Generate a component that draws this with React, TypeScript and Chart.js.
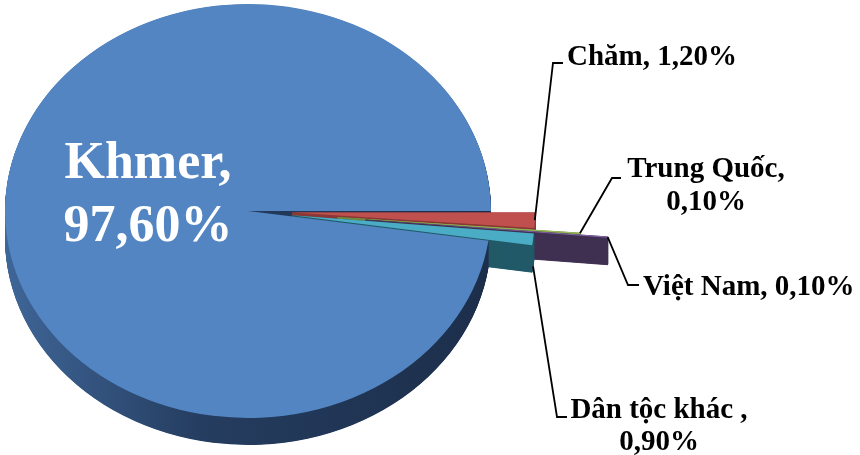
import { useEffect, useRef } from 'react';
import { Chart, registerables } from 'chart.js';

Chart.register(...registerables);

// Ethnic composition (share of population, %)
const categories = ['Khmer', 'Chăm', 'Trung Quốc', 'Việt Nam', 'Dân tộc khác'];
const shares = [97.6, 1.2, 0.1, 0.1, 0.9];

const topColors = ['#5285c2', '#c0504d', '#9bbb59', '#8064a2', '#4bacc6'];
const sideColors = ['#2a4670', '#8a3836', '#6f8a3c', '#403152', '#215a68'];

const W = 860;
const H = 455;
const RADIUS = 243;
const TILT = 0.852; // vertical squash of the pie disc
const DEPTH = 27; // thickness of the disc in px
const LAYER_STEP = 0.5;
const EXPLODE = [0, 44, 90, 118, 44];

const fmt = (v: number) => v.toFixed(2).replace('.', ',') + '%';

type LabelSpec = {
  lines: string[];
  x: number;
  y: number;
  lineH: number;
  size: number;
  color: string;
  align: CanvasTextAlign;
  leader?: { atBase: boolean; elbow: [number, number]; end: [number, number] };
};

const labelSpecs: LabelSpec[] = [
  {
    lines: [categories[0] + ',', fmt(shares[0])],
    x: 148, y: 178, lineH: 63, size: 52, color: '#ffffff', align: 'center',
  },
  {
    lines: [`${categories[1]}, ${fmt(shares[1])}`],
    x: 567, y: 65, lineH: 0, size: 29, color: '#000000', align: 'left',
    leader: { atBase: false, elbow: [553, 63], end: [563, 63] },
  },
  {
    lines: [categories[2] + ',', fmt(shares[2])],
    x: 706, y: 177, lineH: 33, size: 29, color: '#000000', align: 'center',
    leader: { atBase: false, elbow: [612, 178], end: [621, 178] },
  },
  {
    lines: [`${categories[3]}, ${fmt(shares[3])}`],
    x: 643, y: 295, lineH: 0, size: 29, color: '#000000', align: 'left',
    leader: { atBase: false, elbow: [628, 285], end: [639, 285] },
  },
  {
    lines: [categories[4] + ' ,', fmt(shares[4])],
    x: 659, y: 418, lineH: 32, size: 29, color: '#000000', align: 'center',
    leader: { atBase: true, elbow: [557, 417], end: [567, 417] },
  },
];

function explodeVec(arc: any, i: number): [number, number] {
  const mid = (arc.startAngle + arc.endAngle) / 2;
  return [EXPLODE[i] * Math.cos(mid), EXPLODE[i] * Math.sin(mid)];
}

const pie3d = {
  id: 'pie3d',
  beforeDatasetsDraw(chart: any) {
    const arcs = chart.getDatasetMeta(0).data as any[];
    if (!arcs.length) return;
    const ctx: CanvasRenderingContext2D = chart.ctx;
    const cx = arcs[0].x;
    const cy = arcs[0].y;

    ctx.save();
    ctx.translate(cx, cy);
    ctx.scale(1, TILT);
    ctx.translate(-cx, -cy);

    const khmerSide = ctx.createLinearGradient(cx - RADIUS, 0, cx + RADIUS, 0);
    khmerSide.addColorStop(0, '#3f6698');
    khmerSide.addColorStop(0.4, '#253d60');
    khmerSide.addColorStop(1, '#1c2e4a');

    // side wall: stacked copies of every slice, lowest layer first
    for (let d = DEPTH; d >= LAYER_STEP; d -= LAYER_STEP) {
      arcs.forEach((arc, i) => {
        const [ox, oy] = explodeVec(arc, i);
        const fill = i === 0 ? khmerSide : sideColors[i];
        ctx.save();
        ctx.translate(ox, oy + d / TILT);
        ctx.fillStyle = fill;
        ctx.strokeStyle = fill;
        ctx.lineWidth = 1;
        ctx.lineJoin = 'round';
        ctx.beginPath();
        ctx.moveTo(arc.x, arc.y);
        ctx.arc(arc.x, arc.y, arc.outerRadius, arc.startAngle, arc.endAngle);
        ctx.closePath();
        ctx.fill();
        if (i > 0) ctx.stroke();
        ctx.restore();
      });
    }

    // top faces, drawn by the arc elements themselves
    arcs.forEach((arc, i) => {
      const [ox, oy] = explodeVec(arc, i);
      ctx.save();
      ctx.translate(ox, oy);
      arc.draw(ctx);
      ctx.restore();
    });

    ctx.restore();
    return false;
  },
  afterDraw(chart: any) {
    const arcs = chart.getDatasetMeta(0).data as any[];
    if (!arcs.length) return;
    const ctx: CanvasRenderingContext2D = chart.ctx;
    const cx = arcs[0].x;
    const cy = arcs[0].y;

    ctx.save();
    labelSpecs.forEach((spec, i) => {
      const arc = arcs[i];
      if (spec.leader && arc) {
        const [ox, oy] = explodeVec(arc, i);
        const mid = (arc.startAngle + arc.endAngle) / 2;
        const r = arc.outerRadius;
        const sx = cx + ox + r * Math.cos(mid);
        const sy = cy + (oy + r * Math.sin(mid)) * TILT + (spec.leader.atBase ? DEPTH : 0);
        ctx.strokeStyle = '#000000';
        ctx.lineWidth = 1.8;
        ctx.lineJoin = 'miter';
        ctx.beginPath();
        ctx.moveTo(sx, sy);
        ctx.lineTo(spec.leader.elbow[0], spec.leader.elbow[1]);
        ctx.lineTo(spec.leader.end[0], spec.leader.end[1]);
        ctx.stroke();
      }
      ctx.font = `bold ${spec.size}px "Liberation Serif", "Times New Roman", serif`;
      ctx.fillStyle = spec.color;
      ctx.textAlign = spec.align;
      ctx.textBaseline = 'alphabetic';
      spec.lines.forEach((line, k) => {
        ctx.fillText(line, spec.x, spec.y + k * spec.lineH);
      });
    });
    ctx.restore();
  },
};

export default function App() {
  const canvasRef = useRef<HTMLCanvasElement | null>(null);

  useEffect(() => {
    document.body.style.margin = '0';
    const canvas = canvasRef.current;
    if (!canvas) return;
    const cxArea = 248;
    const cyArea = 211;
    const chart = new Chart(canvas, {
      type: 'pie',
      data: {
        labels: categories,
        datasets: [
          {
            data: shares,
            backgroundColor: topColors,
            borderWidth: 0,
            clip: false as any,
          } as any,
        ],
      },
      options: {
        responsive: false,
        maintainAspectRatio: false,
        devicePixelRatio: 1,
        animation: false,
        events: [],
        radius: RADIUS,
        rotation: 90 + (1 - shares[0] / shares.reduce((a, b) => a + b, 0)) * 360,
        layout: {
          padding: {
            left: cxArea - RADIUS,
            right: W - (cxArea + RADIUS),
            top: cyArea - 207,
            bottom: H - (cyArea + 207),
          },
        },
        plugins: {
          legend: { display: false },
          tooltip: { enabled: false },
          title: { display: false },
        },
      } as any,
      plugins: [pie3d],
    });
    return () => chart.destroy();
  }, []);

  return (
    <div style={{ width: W, height: H, background: '#ffffff' }}>
      <canvas ref={canvasRef} width={W} height={H} style={{ width: W, height: H, display: 'block' }} />
    </div>
  );
}
